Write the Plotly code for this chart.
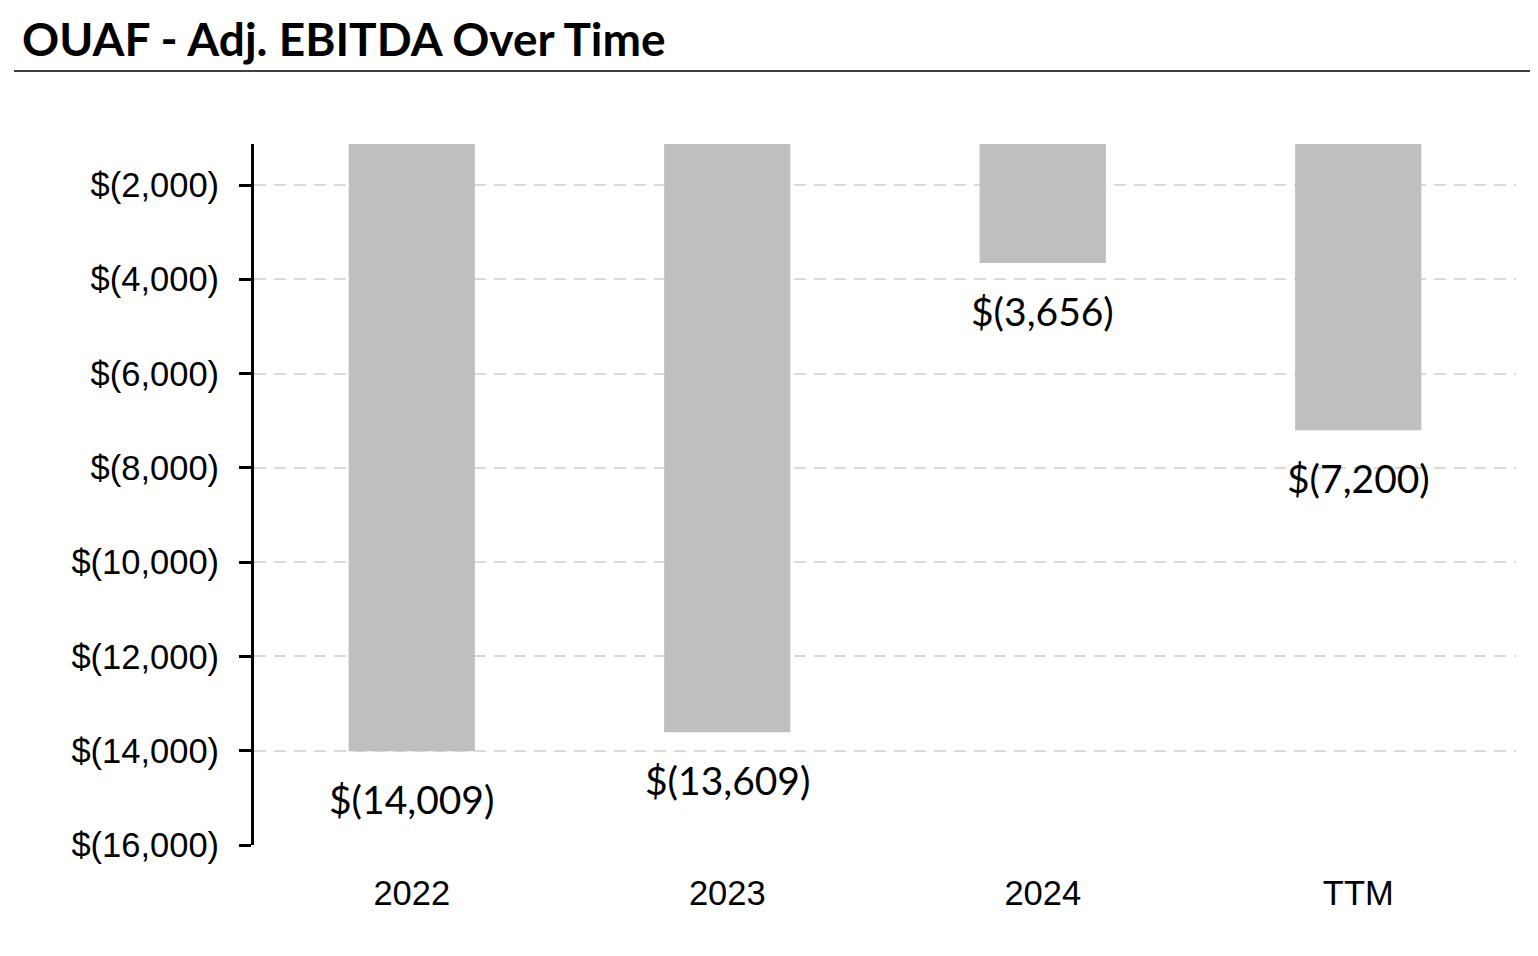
import plotly.graph_objects as go

categories = ["2022", "2023", "2024", "TTM"]
values = [-14009, -13609, -3656, -7200]
value_labels = ["$(14,009)", "$(13,609)", "$(3,656)", "$(7,200)"]
tick_vals = [-2000, -4000, -6000, -8000, -10000, -12000, -14000, -16000]
tick_text = ["$(2,000)", "$(4,000)", "$(6,000)", "$(8,000)", "$(10,000)", "$(12,000)", "$(14,000)", "$(16,000)"]

# page body has an 8px margin; compensate
W, H = 1522, 940
L, T, R, B = 246, 136, 14, 103
PW, PH = W - L - R, H - T - B

fig = go.Figure()
fig.add_trace(go.Bar(x=categories, y=values, marker=dict(color="#bfbfbf", line=dict(width=0)),
                     hoverinfo="skip"))

for i, (v, t) in enumerate(zip(values, value_labels)):
    fig.add_annotation(x=i, y=v, text=t, showarrow=False, yanchor="middle", yshift=-48,
                       font=dict(family="Lato", size=39, color="black"))

fig.update_layout(
    width=W, height=H,
    margin=dict(l=L, r=R, t=T, b=B),
    paper_bgcolor="white", plot_bgcolor="white",
    bargap=0.6, showlegend=False,
    title=dict(text="<b>OUAF - Adj. EBITDA Over Time</b>", x=14 / W, xanchor="left",
               y=1 - 32 / H, yanchor="middle",
               font=dict(family="Lato", size=46, color="black")),
    font=dict(family="Liberation Sans", size=34, color="black"),
)
fig.add_shape(type="line", xref="paper", yref="paper",
              x0=(6 - L) / PW, x1=(W - L) / PW + 0.01,
              y0=1 + (T - 63) / PH, y1=1 + (T - 63) / PH,
              line=dict(color="black", width=1.5))

fig.update_xaxes(type="category", range=[-0.5, len(categories) - 0.5],
                 showline=False, ticks="", showgrid=False,
                 tickfont=dict(size=34.5), ticklabelstandoff=24)
fig.update_yaxes(range=[-16000, -1130], tickvals=tick_vals, ticktext=tick_text,
                 showgrid=True, gridcolor="#d9d9d9", griddash="12px,8px", gridwidth=2,
                 showline=True, linecolor="black", linewidth=3,
                 ticks="outside", ticklen=12, tickwidth=3, tickcolor="black",
                 tickfont=dict(size=34.5), ticklabelstandoff=13, zeroline=False)

fig.write_html("out.html")
